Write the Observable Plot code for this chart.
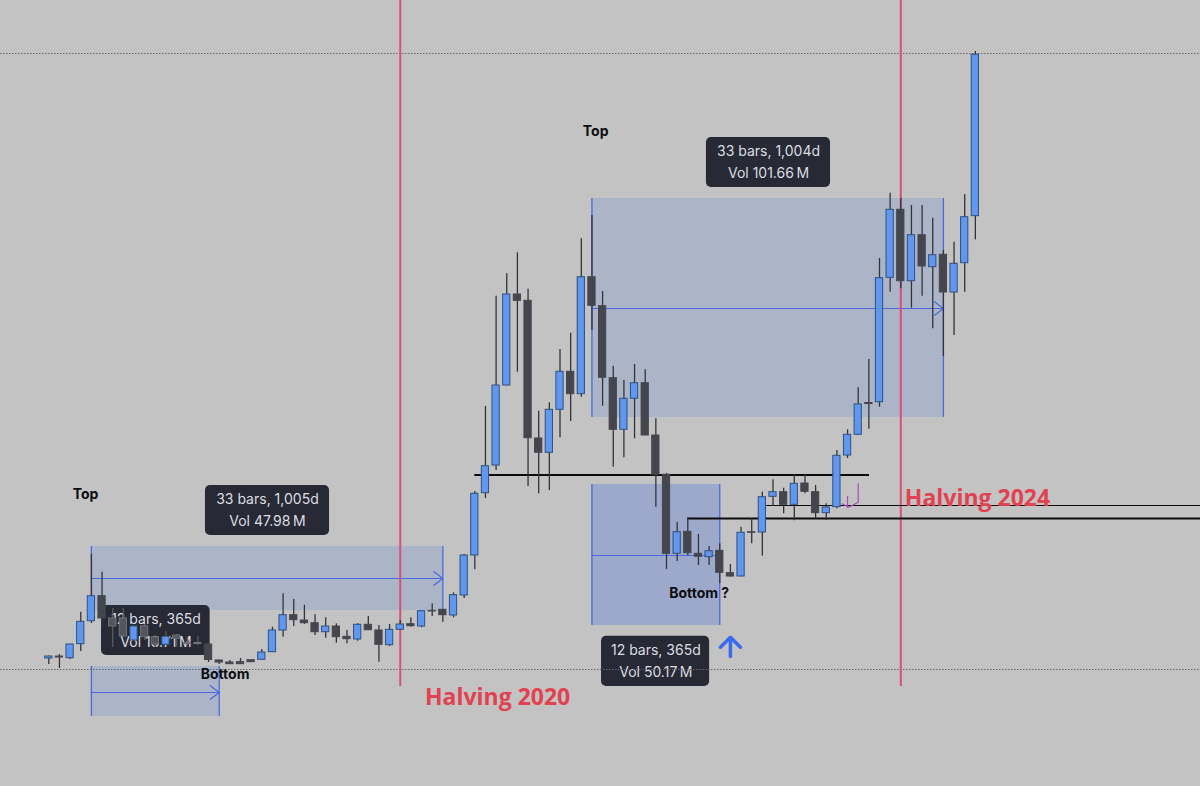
<![CDATA[<!DOCTYPE html>
<html><head><meta charset="utf-8">
<script src="https://cdn.jsdelivr.net/npm/d3@7"></script>
<script src="https://cdn.jsdelivr.net/npm/@observablehq/plot@0.6"></script>
<style>html,body{margin:0;padding:0;background:#c3c3c3;overflow:hidden}svg{display:block}</style>
</head><body><div id="chart"></div>
<script>
const opens=[128,130,128.3,142.3,165.3,190.3,168,168,146,160.3,149.3,141.7,151,143.5,143.5,142,126,124,124.3,126.3,126.7,134.3,156,171.3,166,163.3,154.3,160,149.7,147,161.7,156,141.3,156.7,162.3,160,175.7,176.7,171,191,231,293.3,321,401,492,485.7,348,333.7,376.7,414.7,392.3,509.3,480.3,408.3,356.7,387.7,403.3,351,311.7,232.7,254.7,232.7,229.3,235.7,213.3,210,254.3,254,289.7,294.3,281.7,303,294.3,273.3,279.3,331,351.7,383.5,384.3,508.7,576.7,505.3,551.3,519.3,531.7,494,523.3,570.3];
const closes=[130,129,142,164.7,190.3,168,160,150,160,149.3,142,149.7,147.7,142.5,142.5,126.5,124,122.3,122.3,124.3,134,156,171.3,166.3,163.3,154.3,160,149.3,147.3,161.7,156.3,141.7,156.7,162,160.3,175.3,175,171.3,191.3,231,292.7,320.3,401,492,485.7,348.3,333.7,376.7,414.7,392.3,509.3,480.7,408.7,356.7,387.7,403.3,351,311.7,232.7,254.3,233.3,229.7,235.3,213.7,210,253.7,253.7,289.3,294.3,281.7,302.7,294.7,273.3,279,330.7,351.7,382,382.5,508.3,576.7,505.3,551.3,520,531.3,494,522.7,569.3,731.7];
const highs=[130.5,132,142,174.3,232,214.3,178,178,161,162,151,155,152,149,150.3,145.3,126.5,126,128,126.3,137,159.3,192.7,187,181.3,171.7,168.7,162.7,156,162.7,170,161,162,166,168.7,176,182.7,177,193.7,232,295,380,490.3,512.7,533.7,497.3,375.3,383.7,437,453.3,547.7,571,495,420.3,406,422,416.7,367.7,313,264.3,268.7,252,240,242.7,222,259.3,267.7,294.3,306.7,298.3,311.7,311.7,301,282.7,336,356.7,398.7,427,528,593.3,588,581,581,568.3,536,544.3,592,735];
const lows=[122,118,127,135,163,159,139,149,145,146,139,141,139.4,141,141,124,122,122,122,124.3,126.5,134,149.3,160,162,151,148.3,143.3,142.7,145.3,156,124.3,140,156,159.3,158.7,170,164.3,168.7,188,216.7,288,316,400.5,414.3,300,292.7,296,348.7,365,389.3,456,380.3,319.3,328.7,347.7,351,279.3,217,225,231,221,221,202.7,209.3,209.7,242.7,230.3,280,272.7,265.7,292.7,267.7,266,277.7,328,351.5,357.3,379.3,494.3,497.7,478.3,490.3,457.7,430,451,494.3,546.7];
const candles=opens.map((o,i)=>({i,o,c:closes[i],h:highs[i],l:lows[i],up:closes[i]>o}));

const rangeBoxes=[
 {from:4,to:37,top:240,bottom:176,mid:208,fill:"#6f8bd6",op:0.27},
 {from:4,to:16,top:120,bottom:70,mid:94,fill:"#6f8bd6",op:0.27},
 {from:51,to:84,top:588,bottom:369,mid:478,fill:"#6f8bd6",op:0.27},
 {from:51,to:63,top:302,bottom:161,mid:231,fill:"#6685d6",op:0.42}
];
const arrowBoxes=rangeBoxes.slice(0,3);
const halvings=[33,80];
const dottedLevels=[733,117];
const levels=[
 {y:311.5,a:40,b:77.06,w:2.2},
 {y:268,a:60,b:108.2,w:2.2},
 {y:281,a:67.4,b:108.2,w:1.2}
];
const hookA=[{x:75,y:290},{x:75,y:279.3}];
const hookB=[{x:76,y:302.7},{x:76,y:284.3},{x:75.1,y:279.3},{x:74.5,y:282.7}];
const tips=[
 {x1:14.71,x2:26.36,top:301,bottom:251,cx:20.53,l1y:287,l2y:265,l1:"33 bars, 1,005d",l2:"Vol 47.98\u2009M"},
 {x1:4.95,x2:15.15,top:181,bottom:131,cx:10.07,l1y:167,l2y:144,l1:"12 bars, 365d",l2:"Vol 13.71\u2009M"},
 {x1:61.75,x2:73.4,top:649,bottom:599,cx:67.58,l1y:635,l2y:613,l1:"33 bars, 1,004d",l2:"Vol 101.66\u2009M"},
 {x1:51.9,x2:62.05,top:150.3,bottom:100,cx:57,l1y:136,l2y:114,l1:"12 bars, 365d",l2:"Vol 50.17\u2009M"}
];
const blackLabels=[
 {x:3.45,y:292,t:"Top"},{x:51.35,y:655,t:"Top"},{x:16.55,y:112,t:"Bottom"},{x:61.07,y:193,t:"Bottom ?"}
];
const redLabels=[{x:42.14,y:89,t:"Halving 2020"},{x:87.2,y:288,t:"Halving 2024"}];
const upShaft=[{x:64,y:130},{x:64,y:149}];
const upHead=[{x:63.06,y:139.3},{x:64,y:149.3},{x:64.94,y:139.3}];

const W=0.34;
const chart=Plot.plot({
 width:1200,height:786,margin:0,
 style:{background:"#c3c3c3"},
 x:{axis:null,domain:[-4.535,108.14],range:[0,1200]},
 y:{axis:null,domain:[0,786],range:[786,0]},
 marks:[
  Plot.rect(rangeBoxes,{x1:"from",x2:"to",y1:"bottom",y2:"top",fill:"fill",fillOpacity:"op"}),
  Plot.ruleX(rangeBoxes,{x:"from",y1:"bottom",y2:"top",stroke:"#4a6ade",strokeWidth:1.3}),
  Plot.ruleX(rangeBoxes,{x:"to",y1:"bottom",y2:"top",stroke:"#4a6ade",strokeWidth:1.3}),
  Plot.ruleY(rangeBoxes,{y:"mid",x1:"from",x2:"to",stroke:"#4a6ade",strokeWidth:1.2}),
  Plot.arrow(arrowBoxes,{x1:"from",x2:"to",y1:"mid",y2:"mid",stroke:"#4a6ade",strokeWidth:1.2,headLength:14,headAngle:75}),
  Plot.rect(tips,{x1:"x1",x2:"x2",y1:"bottom",y2:"top",fill:"#272a35",rx:5}),
  Plot.text(tips,{x:"cx",y:"l1y",text:"l1",fill:"#dcdde2",fontSize:14,fontFamily:"Inter"}),
  Plot.text(tips,{x:"cx",y:"l2y",text:"l2",fill:"#dcdde2",fontSize:14,fontFamily:"Inter"}),
  Plot.ruleY(dottedLevels,{stroke:"#66666c",strokeWidth:1,strokeDasharray:"1.5,1.5"}),
  Plot.ruleX(halvings,{y1:100,y2:786,stroke:"#d84f78",strokeWidth:2}),
  Plot.ruleY(levels,{y:"y",x1:"a",x2:"b",stroke:"#0c0c0e",strokeWidth:"w"}),
  Plot.ruleX(candles,{x:"i",y1:"l",y2:"h",stroke:d=>(d.i>=6&&d.i<=14)?"#5a5b62":"#33343a",strokeWidth:1.3}),
  Plot.rect(candles,{x1:d=>d.i-W,x2:d=>d.i+W,y1:"o",y2:"c",
    fill:d=>d.up?"#6097ef":((d.i>=6&&d.i<=14)?"#55565c":"#45464d"),
    stroke:d=>d.up?"#2f5180":((d.i>=6&&d.i<=14)?"#707177":"#45464d"),strokeWidth:1}),
  Plot.line(hookA,{x:"x",y:"y",stroke:"#a44fb0",strokeWidth:1.2}),
  Plot.line(hookB,{x:"x",y:"y",stroke:"#a44fb0",strokeWidth:1.2}),
  Plot.line(upShaft,{x:"x",y:"y",stroke:"#3a6af0",strokeWidth:3.5}),
  Plot.line(upHead,{x:"x",y:"y",stroke:"#3a6af0",strokeWidth:3.5,strokeLinejoin:"miter"}),
  Plot.text(blackLabels,{x:"x",y:"y",text:"t",fill:"#0d0d10",fontSize:14,fontWeight:"bold",fontFamily:"Inter"}),
  Plot.text(redLabels,{x:"x",y:"y",text:"t",fill:"#e2424f",fontSize:23,fontWeight:"bold",fontFamily:"Open Sans"})
 ]
});
document.getElementById("chart").append(chart);
</script></body></html>]]>
